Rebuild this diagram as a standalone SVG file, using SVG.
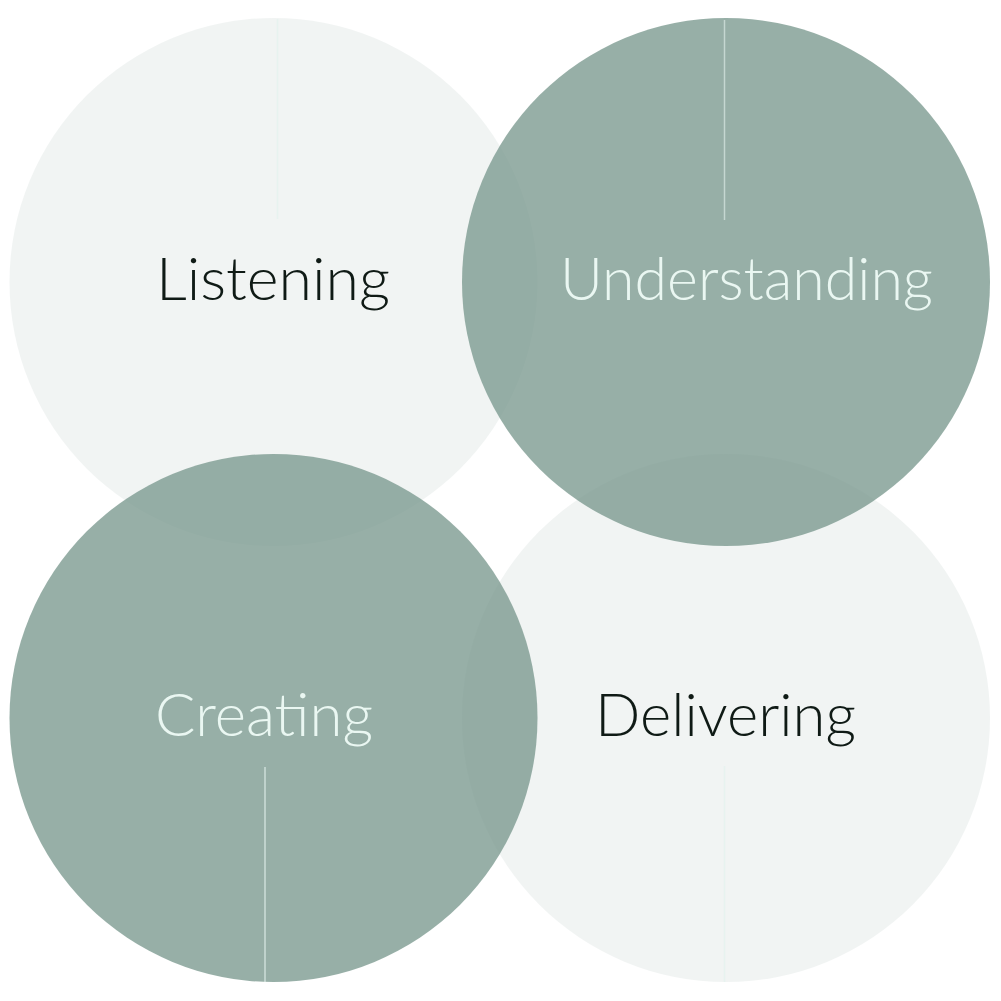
<svg xmlns="http://www.w3.org/2000/svg" width="1001" height="1001" viewBox="0 0 1001 1001">
<style>
.light{fill:#7d9b91;fill-opacity:0.11}
.dark{fill:#7a988e;fill-opacity:0.78}
.lbl{font-family:"Lato","Open Sans","Liberation Sans",sans-serif;font-weight:300;font-size:60px}
.lblDark{fill:#0f1a15}
.lblLight{fill:#eaf7f2}
.div{stroke:#e4f3ee;stroke-width:1.5}
</style>
<rect width="1001" height="1001" fill="#ffffff"/>
<g id="listening">
<circle class="light" cx="273.5" cy="282" r="264"/>
</g>
<g id="creating">
<circle class="dark" cx="273.5" cy="718" r="264"/>
</g>
<g id="understanding">
<circle class="dark" cx="726" cy="282" r="264"/>
</g>
<g id="delivering">
<circle class="light" cx="726" cy="718" r="264"/>
</g>
<g id="connectors">
<line class="div" x1="277.5" y1="19" x2="277.5" y2="219" opacity="0.7"/>
<line class="div" x1="724.5" y1="20" x2="724.5" y2="220" opacity="0.6"/>
<line class="div" x1="265" y1="767" x2="265" y2="982" opacity="0.7"/>
<line class="div" x1="724.5" y1="766" x2="724.5" y2="982" opacity="0.7"/>
</g>
<g id="labels">
<text class="lbl lblDark" x="156" y="300" textLength="234" lengthAdjust="spacingAndGlyphs">Listening</text>
<text class="lbl lblLight" x="560" y="300" textLength="373" lengthAdjust="spacingAndGlyphs">Understanding</text>
<text class="lbl lblLight" x="155" y="736" textLength="218" lengthAdjust="spacingAndGlyphs">Creating</text>
<text class="lbl lblDark" x="595" y="736" textLength="261" lengthAdjust="spacingAndGlyphs">Delivering</text>
</g>
</svg>
